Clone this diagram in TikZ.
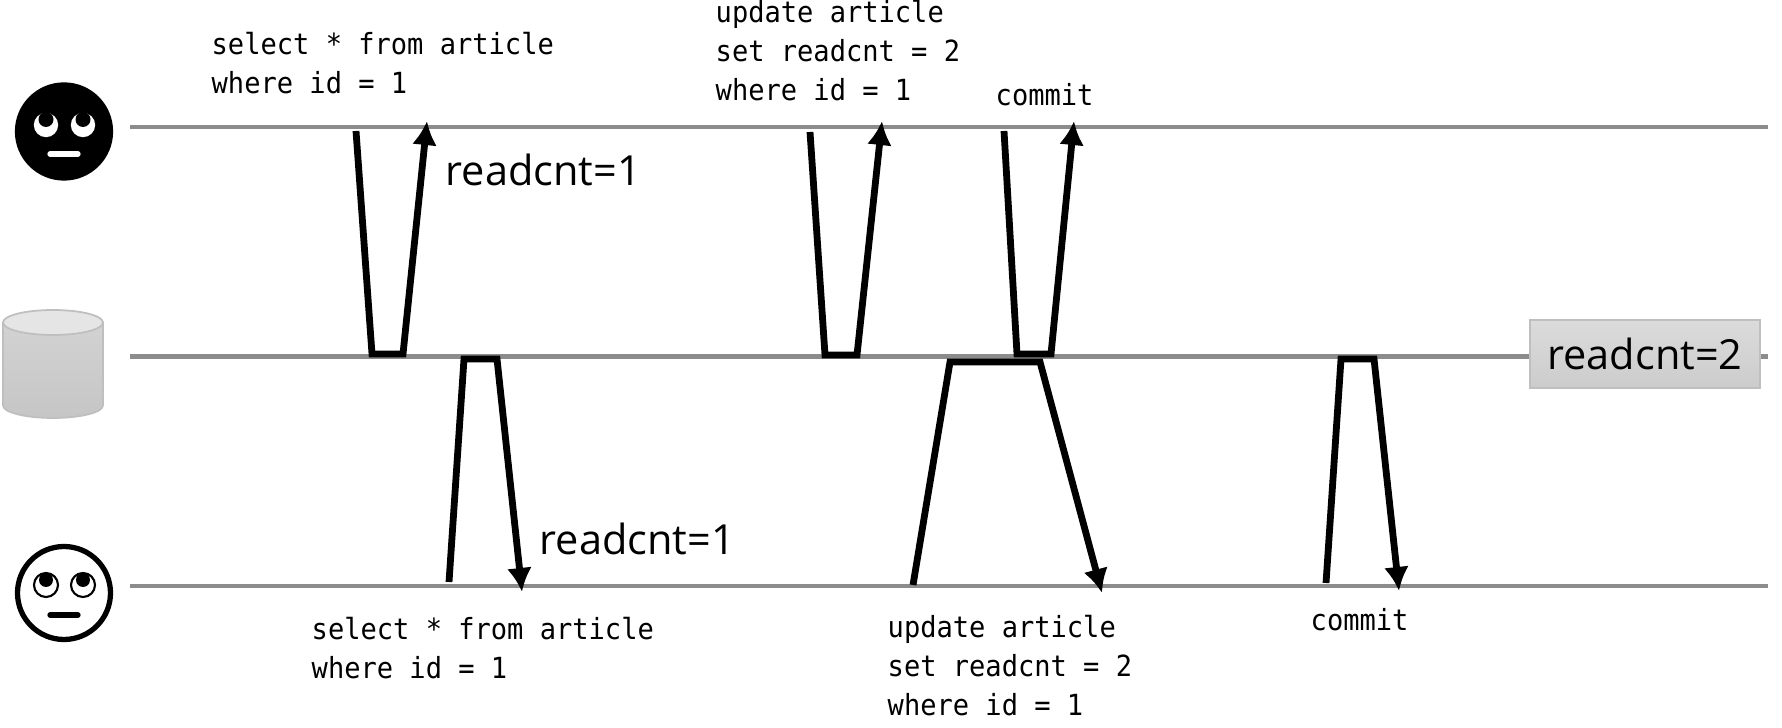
\documentclass[tikz,border=0pt]{standalone}
\usepackage{fontspec}
\usetikzlibrary{arrows.meta}
\newfontfamily\codefont[FakeStretch=0.93]{DejaVu Sans Mono}
\newfontfamily\labelfont{Open Sans}
\tikzset{
  timeline/.style={line width=0.46mm, color=gray!90},
  msg/.style={line width=0.68mm, black, line join=miter, -{Latex[length=2.4mm,width=2.5mm]}},
  sql/.style={anchor=west, align=left, inner sep=0pt, font=\codefont\fontsize{8.28}{11.1}\selectfont},
  value/.style={anchor=west, inner sep=0pt, font=\labelfont\fontsize{11.8}{14}\selectfont},
  face/.style={circle, inner sep=0pt, minimum size=9.3mm, line width=1.5pt}
}
\begin{document}
\begin{tikzpicture}[scale=1.0]
  \useasboundingbox (0,0) rectangle (17.82,7.28);

  % Timelines
  \coordinate (topstart) at (1.30, 6.01);
  \coordinate (topend) at (17.68, 6.01);
  \coordinate (midstart) at (1.30, 3.715);
  \coordinate (midend) at (17.68, 3.715);
  \coordinate (botstart) at (1.30, 1.42);
  \coordinate (botend) at (17.68, 1.42);
  \draw[timeline] (topstart) -- (topend);
  \draw[timeline] (midstart) -- (midend);
  \draw[timeline] (botstart) -- (botend);

  % Upper user, dark face
  \node[face, draw=black, fill=black] (usertop) at (0.64, 5.965) {};
  \fill[white] (0.46, 6.03) circle (0.122);
  \fill[white] (0.83, 6.03) circle (0.122);
  \fill[black] (0.46, 6.085) circle (0.075);
  \fill[black] (0.83, 6.085) circle (0.075);
  \draw[white, line width=1.5pt, line cap=round] (0.50, 5.74) -- (0.78, 5.74);

  % Lower user, light face
  \node[face, draw=black, fill=white] (userbot) at (0.64, 1.35) {};
  \draw[black, fill=white, line width=0.6pt] (0.46, 1.43) circle (0.12);
  \draw[black, fill=white, line width=0.6pt] (0.83, 1.43) circle (0.12);
  \fill[black] (0.46, 1.48) circle (0.07);
  \fill[black] (0.83, 1.48) circle (0.07);
  \draw[black, line width=1.5pt, line cap=round] (0.50, 1.13) -- (0.78, 1.13);

  % Database
  \path[top color=gray!35, bottom color=gray!45, draw=gray!50, line width=0.5pt]
    (0.03, 4.055) -- (0.03, 3.225) arc (180:360:0.50 and 0.125) -- (1.03, 4.055) -- cycle;
  \draw[fill=gray!20, draw=gray!50, line width=0.5pt] (0.53, 4.055) ellipse (0.50 and 0.125);

  % Stored value
  \node[top color=gray!28, bottom color=gray!40, draw=gray!50, line width=0.5pt,
        minimum width=2.30cm, minimum height=0.68cm, inner sep=0pt,
        font=\labelfont\fontsize{11.8}{14}\selectfont] (stored) at (16.45, 3.74) {readcnt=2};

  % Upper user requests
  \coordinate (a1) at (3.56, 5.97);
  \coordinate (a2) at (3.72, 3.74);
  \coordinate (a3) at (4.03, 3.74);
  \coordinate (a4) at (4.27, 6.07);
  \draw[msg] (a1) -- (a2) -- (a3) -- (a4);
  \coordinate (c1) at (8.10, 5.96);
  \coordinate (c2) at (8.25, 3.73);
  \coordinate (c3) at (8.57, 3.73);
  \coordinate (c4) at (8.82, 6.07);
  \draw[msg] (c1) -- (c2) -- (c3) -- (c4);
  \coordinate (d1) at (10.04, 5.97);
  \coordinate (d2) at (10.17, 3.74);
  \coordinate (d3) at (10.51, 3.74);
  \coordinate (d4) at (10.74, 6.07);
  \draw[msg] (d1) -- (d2) -- (d3) -- (d4);

  % Lower user requests
  \coordinate (b1) at (4.49, 1.46);
  \coordinate (b2) at (4.64, 3.69);
  \coordinate (b3) at (4.97, 3.69);
  \coordinate (b4) at (5.22, 1.36);
  \draw[msg] (b1) -- (b2) -- (b3) -- (b4);
  \coordinate (e1) at (9.13, 1.43);
  \coordinate (e2) at (9.50, 3.66);
  \coordinate (e3) at (10.40, 3.66);
  \coordinate (e4) at (11.02, 1.35);
  \draw[msg] (e1) -- (e2) -- (e3) -- (e4);
  \coordinate (f1) at (13.26, 1.45);
  \coordinate (f2) at (13.41, 3.69);
  \coordinate (f3) at (13.74, 3.69);
  \coordinate (f4) at (13.99, 1.37);
  \draw[msg] (f1) -- (f2) -- (f3) -- (f4);

  % Statements
  \node[sql] (selecttop) at (2.11, 6.65) {select * from article\\where id = 1};
  \node[sql] (updatetop) at (7.15, 6.77) {update article\\set readcnt = 2\\where id = 1};
  \node[sql] (committop) at (9.95, 6.33) {commit};
  \node[sql] (selectbot) at (3.11, 0.80) {select * from article\\where id = 1};
  \node[sql] (updatebot) at (8.87, 0.62) {update article\\set readcnt = 2\\where id = 1};
  \node[sql] (commitbot) at (13.10, 1.08) {commit};

  % Values read
  \node[value] (readtop) at (4.45, 5.58) {readcnt=1};
  \node[value] (readbot) at (5.39, 1.89) {readcnt=1};
\end{tikzpicture}
\end{document}
